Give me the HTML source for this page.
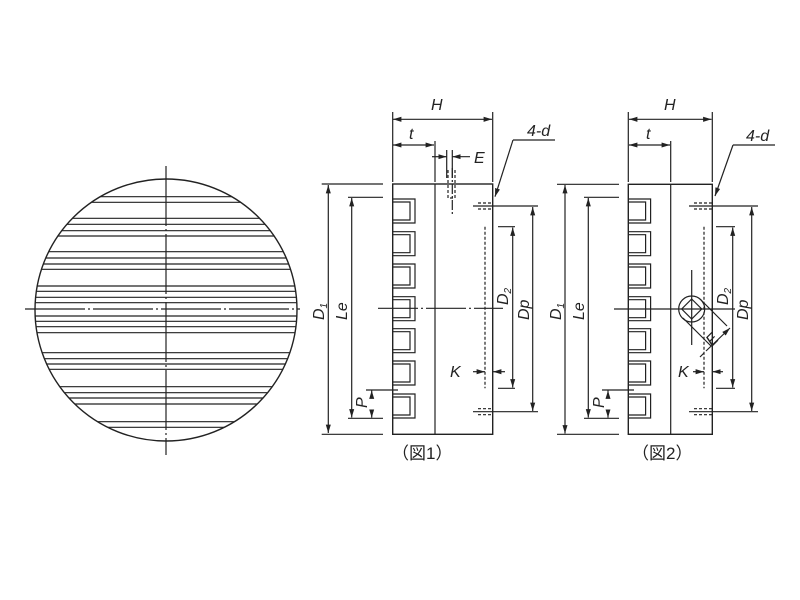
<!DOCTYPE html>
<html><head><meta charset="utf-8"><style>
html,body{margin:0;padding:0;background:#fff;}
svg{display:block}
text{font-family:"Liberation Sans","Noto Sans CJK JP",sans-serif;fill:#222;font-style:italic;font-size:16px}
.j{font-style:normal;font-size:17px}
</style></head><body>
<svg width="800" height="600" viewBox="0 0 800 600" xmlns="http://www.w3.org/2000/svg">
<defs>
<marker id="a" viewBox="0 0 10 10" refX="10" refY="5" markerWidth="7" markerHeight="7" orient="auto-start-reverse"><path d="M0,2 L10,5 L0,8 z" fill="#222"/></marker>
<clipPath id="c"><circle cx="166" cy="310" r="131"/></clipPath>
</defs>
<g stroke="#222" stroke-width="1.2" fill="none">
<circle cx="166" cy="310" r="131" stroke-width="1.4"/>
<g clip-path="url(#c)">
<path d="M30 196.7H300M30 202.3H300M30 218.3H300M30 224.3H300M30 230.7H300M30 236H300M30 251.7H300M30 258H300M30 264H300M30 269.3H300M30 286H300M30 291.3H300M30 297.3H300M30 302.7H300M30 316H300M30 321.3H300M30 326.7H300M30 332.7H300M30 352.7H300M30 358.7H300M30 364H300M30 369.3H300M30 386.7H300M30 392.7H300M30 398H300M30 404H300M30 421.7H300M30 427.3H300"/>
</g>
<path d="M25 309H300M166 166V455" stroke-dasharray="60,3,2,3"/>

<rect x="392.7" y="184" width="100" height="250.3" stroke-width="1.4"/>
<line x1="435" y1="184" x2="435" y2="434.3"/>
<g>
<path d="M392.7 199H415V223H392.7M392.7 202H410V220H392.7"/>
<path d="M392.7 231.7H415V255.7H392.7M392.7 234.7H410V252.7H392.7"/>
<path d="M392.7 264H415V288H392.7M392.7 267H410V285H392.7"/>
<path d="M392.7 296.7H415V320.7H392.7M392.7 299.7H410V317.7H392.7"/>
<path d="M392.7 328.7H415V352.7H392.7M392.7 331.7H410V349.7H392.7"/>
<path d="M392.7 361H415V385H392.7M392.7 364H410V382H392.7"/>
<path d="M392.7 394H415V418H392.7M392.7 397H410V415H392.7"/>
</g>
<path d="M392.7 112V182M492.7 112V182M435 141V182"/>
<line x1="393" y1="119.3" x2="492" y2="119.3" marker-start="url(#a)" marker-end="url(#a)"/>
<line x1="393" y1="145" x2="434" y2="145" marker-start="url(#a)" marker-end="url(#a)"/>
<path d="M446.7 150V178M452.3 150V178"/>
<line x1="432" y1="156.7" x2="446.7" y2="156.7" marker-end="url(#a)"/>
<line x1="470" y1="156.7" x2="452.3" y2="156.7" marker-end="url(#a)"/>
<path d="M448 170V198H455V170" stroke-dasharray="3,2"/>
<path d="M452.3 168V216" stroke-dasharray="10,2,2,2"/>
<path d="M321.7 184H383M321.7 434.3H383M348 197.3H383M348 418.3H383M366 390H398"/>
<line x1="328.3" y1="185" x2="328.3" y2="433" marker-start="url(#a)" marker-end="url(#a)"/>
<line x1="351.7" y1="198" x2="351.7" y2="417.5" marker-start="url(#a)" marker-end="url(#a)"/>
<line x1="371.7" y1="398" x2="371.7" y2="390.5" marker-end="url(#a)"/>
<line x1="371.7" y1="410" x2="371.7" y2="417.7" marker-end="url(#a)"/>
<path d="M378 308.3H503" stroke-dasharray="40,3,2,3"/>
<path d="M478 203H493M478 209H493M478 408.7H493M478 414.7H493" stroke-dasharray="3,2"/>
<path d="M473 206H538M473 411.7H538M498 226.7H515M498 388.3H515"/>
<line x1="485" y1="226.7" x2="485" y2="388.3" stroke-dasharray="3,2"/>
<line x1="532.7" y1="207" x2="532.7" y2="411" marker-start="url(#a)" marker-end="url(#a)"/>
<line x1="512.7" y1="227.5" x2="512.7" y2="387.5" marker-start="url(#a)" marker-end="url(#a)"/>
<line x1="473" y1="371.7" x2="485" y2="371.7" marker-end="url(#a)"/>
<line x1="505" y1="371.7" x2="493" y2="371.7" marker-end="url(#a)"/>
<path d="M513 140L495 196.7" marker-end="url(#a)"/>
<path d="M513 140H555"/>

<rect x="628.3" y="184.3" width="84" height="250" stroke-width="1.4"/>
<line x1="670.7" y1="184.3" x2="670.7" y2="434.3"/>
<g transform="translate(235.6 0)">
<path d="M392.7 199H415V223H392.7M392.7 202H410V220H392.7"/>
<path d="M392.7 231.7H415V255.7H392.7M392.7 234.7H410V252.7H392.7"/>
<path d="M392.7 264H415V288H392.7M392.7 267H410V285H392.7"/>
<path d="M392.7 296.7H415V320.7H392.7M392.7 299.7H410V317.7H392.7"/>
<path d="M392.7 328.7H415V352.7H392.7M392.7 331.7H410V349.7H392.7"/>
<path d="M392.7 361H415V385H392.7M392.7 364H410V382H392.7"/>
<path d="M392.7 394H415V418H392.7M392.7 397H410V415H392.7"/>
</g>
<path d="M628.3 112V182M712.3 112V182M670.7 141V182"/>
<line x1="629" y1="119.3" x2="711.5" y2="119.3" marker-start="url(#a)" marker-end="url(#a)"/>
<line x1="629" y1="145" x2="670" y2="145" marker-start="url(#a)" marker-end="url(#a)"/>
<path d="M557 184.3H619M557 434.3H619M584 197.3H619M584 418.3H619M602 390H634"/>
<line x1="565" y1="185" x2="565" y2="433.5" marker-start="url(#a)" marker-end="url(#a)"/>
<line x1="588.3" y1="198" x2="588.3" y2="417.5" marker-start="url(#a)" marker-end="url(#a)"/>
<line x1="608" y1="398" x2="608" y2="390.5" marker-end="url(#a)"/>
<line x1="608" y1="410" x2="608" y2="417.7" marker-end="url(#a)"/>
<path d="M614 309H735"/>
<path d="M691.7 270V345"/>
<circle cx="691.7" cy="309" r="13"/>
<path d="M691.7 299L701.7 309L691.7 319L681.7 309Z"/>
<path d="M700 299L727 326M683 318L711 346"/>
<path d="M706 351L730 328" marker-end="url(#a)"/>
<path d="M704 353L700 357"/>
<path d="M694 203H712M694 209H712M694 408.7H712M694 414.7H712" stroke-dasharray="3,2"/>
<path d="M689 206H758M689 411.7H758M716 226.7H735M716 388.3H735"/>
<line x1="704" y1="226.7" x2="704" y2="388.3" stroke-dasharray="3,2"/>
<line x1="751.7" y1="207" x2="751.7" y2="411" marker-start="url(#a)" marker-end="url(#a)"/>
<line x1="732.7" y1="227.5" x2="732.7" y2="387.5" marker-start="url(#a)" marker-end="url(#a)"/>
<line x1="693" y1="371.7" x2="704" y2="371.7" marker-end="url(#a)"/>
<line x1="723" y1="371.7" x2="712.3" y2="371.7" marker-end="url(#a)"/>
<path d="M733 145L715 196" marker-end="url(#a)"/>
<path d="M733 145H775"/>
</g>

<g>
<text x="431" y="110">H</text>
<text x="409" y="139">t</text>
<text x="474" y="163">E</text>
<text x="527" y="136">4-d</text>
<text x="450" y="377">K</text>
<text transform="translate(324 320) rotate(-90)">D<tspan font-size="10" dy="3">1</tspan></text>
<text transform="translate(347 320) rotate(-90)">Le</text>
<text transform="translate(367 408) rotate(-90)">P</text>
<text transform="translate(508 305) rotate(-90)">D<tspan font-size="10" dy="3">2</tspan></text>
<text transform="translate(529 320) rotate(-90)">Dp</text>
<text class="j" x="392" y="459">（図1）</text>

<text x="664" y="110">H</text>
<text x="646" y="139">t</text>
<text x="746" y="141">4-d</text>
<text x="678" y="377">K</text>
<text transform="translate(561 320) rotate(-90)">D<tspan font-size="10" dy="3">1</tspan></text>
<text transform="translate(584 320) rotate(-90)">Le</text>
<text transform="translate(604 408) rotate(-90)">P</text>
<text transform="translate(728 305) rotate(-90)">D<tspan font-size="10" dy="3">2</tspan></text>
<text transform="translate(748 320) rotate(-90)">Dp</text>
<text transform="translate(712 347) rotate(-45)">E</text>
<text class="j" x="632" y="459">（図2）</text>
</g>
</svg>
</body></html>
